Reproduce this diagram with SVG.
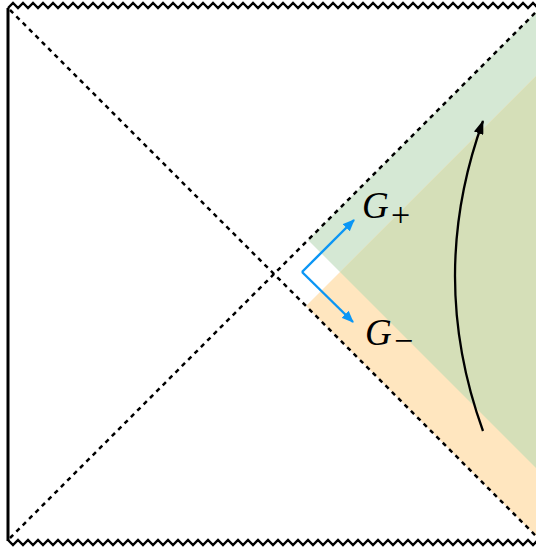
<svg xmlns="http://www.w3.org/2000/svg" width="536" height="554" viewBox="0 0 536 554">
  <defs>
    <style>
      .sing { fill: none; stroke: #000; stroke-width: 2.4; stroke-linejoin: miter; }
      .hor { fill: none; stroke: #000; stroke-width: 2.5; stroke-dasharray: 4.5 4.5; }
      .blue { fill: none; stroke: #0a96f5; stroke-width: 2.4; }
      .flow { fill: none; stroke: #000; stroke-width: 2.3; }
      .lbl { font-family: "Liberation Serif", "Times New Roman", serif; font-style: italic; font-size: 37px; fill: #000; }
      .sub { font-family: "Liberation Serif", "Times New Roman", serif; font-size: 34px; fill: #000; }
    </style>
    <marker id="ahBlue" markerUnits="userSpaceOnUse" markerWidth="12" markerHeight="10" refX="11" refY="5" orient="auto">
      <path d="M0,0 L12,5 L0,10 Z" fill="#0a96f5"/>
    </marker>
    <marker id="ahBlack" markerUnits="userSpaceOnUse" markerWidth="14" markerHeight="10" refX="13" refY="5" orient="auto">
      <path d="M0,0 L14,5 L0,10 Z" fill="#000"/>
    </marker>
  </defs>
  <rect x="0" y="0" width="536" height="554" fill="#fff"/>

  <g id="regions">
    <polygon id="G-plus-region" points="308,240 540,8 540,472" fill="#d5e8d4"/>
    <polygon id="G-minus-region" points="306,306 540,540 540,72" fill="#ffe6bf"/>
    <polygon id="overlap-region" points="340,272 540,72 540,472" fill="#d5dfb8"/>
  </g>

  <g id="boundaries">
    <path id="left-boundary" d="M8,8 L8,541" fill="none" stroke="#000" stroke-width="3"/>
    <path id="future-singularity" class="sing" d="M8,8 l5,-5 5,5 5,-5 5,5 5,-5 5,5 5,-5 5,5 5,-5 5,5 5,-5 5,5 5,-5 5,5 5,-5 5,5 5,-5 5,5 5,-5 5,5 5,-5 5,5 5,-5 5,5 5,-5 5,5 5,-5 5,5 5,-5 5,5 5,-5 5,5 5,-5 5,5 5,-5 5,5 5,-5 5,5 5,-5 5,5 5,-5 5,5 5,-5 5,5 5,-5 5,5 5,-5 5,5 5,-5 5,5 5,-5 5,5 5,-5 5,5 5,-5 5,5 5,-5 5,5 5,-5 5,5 5,-5 5,5 5,-5 5,5 5,-5 5,5 5,-5 5,5 5,-5 5,5 5,-5 5,5 5,-5 5,5 5,-5 5,5 5,-5 5,5 5,-5 5,5 5,-5 5,5 5,-5 5,5 5,-5 5,5 5,-5 5,5 5,-5 5,5 5,-5 5,5 5,-5 5,5 5,-5 5,5 5,-5 5,5 5,-5 5,5 5,-5 5,5 5,-5 5,5 5,-5 5,5 5,-5 5,5 5,-5 5,5"/>
    <path id="past-singularity" class="sing" d="M8,540 l5,5 5,-5 5,5 5,-5 5,5 5,-5 5,5 5,-5 5,5 5,-5 5,5 5,-5 5,5 5,-5 5,5 5,-5 5,5 5,-5 5,5 5,-5 5,5 5,-5 5,5 5,-5 5,5 5,-5 5,5 5,-5 5,5 5,-5 5,5 5,-5 5,5 5,-5 5,5 5,-5 5,5 5,-5 5,5 5,-5 5,5 5,-5 5,5 5,-5 5,5 5,-5 5,5 5,-5 5,5 5,-5 5,5 5,-5 5,5 5,-5 5,5 5,-5 5,5 5,-5 5,5 5,-5 5,5 5,-5 5,5 5,-5 5,5 5,-5 5,5 5,-5 5,5 5,-5 5,5 5,-5 5,5 5,-5 5,5 5,-5 5,5 5,-5 5,5 5,-5 5,5 5,-5 5,5 5,-5 5,5 5,-5 5,5 5,-5 5,5 5,-5 5,5 5,-5 5,5 5,-5 5,5 5,-5 5,5 5,-5 5,5 5,-5 5,5 5,-5 5,5 5,-5 5,5 5,-5 5,5 5,-5"/>
    <path id="past-horizon" class="hor" d="M10,10 L540,540"/>
    <path id="future-horizon" class="hor" d="M10,538 L540,8"/>
  </g>

  <g id="label-G-plus">
    <text class="lbl" x="362" y="218">G</text>
    <text class="sub" x="391" y="226">+</text>
  </g>
  <g id="label-G-minus">
    <text class="lbl" x="365" y="345">G</text>
    <text class="sub" x="394" y="352">−</text>
  </g>

  <g id="connectors">
    <path id="G-plus-arrow" class="blue" d="M302,272 L354,220" marker-end="url(#ahBlue)"/>
    <path id="G-minus-arrow" class="blue" d="M302,272 L353,322" marker-end="url(#ahBlue)"/>
    <path id="killing-flow" class="flow" d="M483,431 Q427,276 483,121" marker-end="url(#ahBlack)"/>
  </g>
</svg>
